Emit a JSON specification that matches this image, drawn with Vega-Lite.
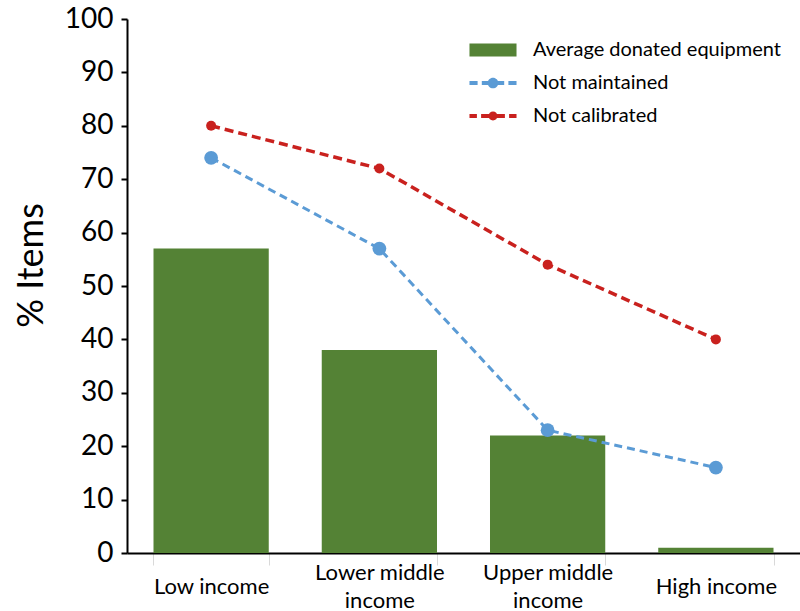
{
  "$schema": "https://vega.github.io/schema/vega-lite/v6.json",
  "width": 673,
  "height": 534,
  "autosize": {"type": "none"},
  "padding": {"left": 127, "top": 19, "right": 0, "bottom": 58},
  "background": "white",
  "config": {
    "font": "Lato",
    "view": {"stroke": null},
    "axis": {"grid": false, "domainColor": "black", "domainWidth": 2, "labelColor": "black", "titleColor": "black", "labelFont": "Lato", "titleFont": "Lato"}
  },
  "data": {
    "values": [
      {"income": "Low income", "series": "Average donated equipment", "value": 57},
      {"income": "Lower middle income", "series": "Average donated equipment", "value": 38},
      {"income": "Upper middle income", "series": "Average donated equipment", "value": 22},
      {"income": "High income", "series": "Average donated equipment", "value": 1},
      {"income": "Low income", "series": "Not maintained", "value": 74},
      {"income": "Lower middle income", "series": "Not maintained", "value": 57},
      {"income": "Upper middle income", "series": "Not maintained", "value": 23},
      {"income": "High income", "series": "Not maintained", "value": 16},
      {"income": "Low income", "series": "Not calibrated", "value": 80},
      {"income": "Lower middle income", "series": "Not calibrated", "value": 72},
      {"income": "Upper middle income", "series": "Not calibrated", "value": 54},
      {"income": "High income", "series": "Not calibrated", "value": 40}
    ]
  },
  "encoding": {
    "x": {
      "field": "income", "type": "nominal", "sort": null,
      "scale": {"paddingInner": 0.315, "paddingOuter": 0.1575},
      "axis": {
        "title": null, "labelAngle": 0, "labelFontSize": 22, "labelBaseline": "middle",
        "labelLineHeight": 14, "labelPadding": 7, "tickBand": "extent", "tickColor": "#d9d9d9",
        "tickSize": 12, "tickWidth": 1, "labelLimit": 0, "labelOverlap": false,
        "labelExpr": "datum.value == 'Lower middle income' ? ['Lower middle', '\u200b', 'income'] : datum.value == 'Upper middle income' ? ['Upper middle', '\u200b', 'income'] : ['\u200b', datum.value, '\u200b']"
      }
    },
    "y": {
      "field": "value", "type": "quantitative",
      "scale": {"domain": [0, 100], "nice": false},
      "axis": {
        "title": "% Items", "titleFontSize": 36, "titleFontWeight": "normal",
        "titleX": -96, "titleY": 246, "titleBaseline": "middle", "titleAngle": -90,
        "values": [0, 10, 20, 30, 40, 50, 60, 70, 80, 90, 100],
        "labelFontSize": 28, "labelPadding": 8, "tickSize": 6, "tickWidth": 2, "tickColor": "black"
      }
    },
    "color": {
      "field": "series", "type": "nominal",
      "scale": {"domain": ["Average donated equipment", "Not maintained", "Not calibrated"], "range": ["#548235", "#5B9BD5", "#C9211E"]},
      "legend": {
        "title": null, "orient": "none", "legendX": 352, "legendY": 17,
        "labelFontSize": 20, "labelColor": "black", "labelOffset": 26, "symbolSize": 784,
        "rowPadding": 9, "padding": 0, "labelLimit": 0,
        "encode": {
          "symbols": {
            "update": {
              "shape": {"signal": "datum.value == 'Average donated equipment' ? 'M-1.68,-0.46H1.68V0.46H-1.68Z' : datum.value == 'Not maintained' ? 'M-1.68,-0.15H-1.1V0.15H-1.68Z M-0.8,-0.15H-0.3V0.15H-0.8Z M0.3,-0.15H0.8V0.15H0.3Z M1.1,-0.15H1.68V0.15H1.1Z M0.38,0A0.38,0.38 0 1,1 -0.38,0A0.38,0.38 0 1,1 0.38,0Z' : 'M-1.68,-0.14H-1.15V0.14H-1.68Z M-0.85,-0.14H-0.25V0.14H-0.85Z M0.25,-0.14H0.85V0.14H0.25Z M1.15,-0.14H1.68V0.14H1.15Z M0.32,0A0.32,0.32 0 1,1 -0.32,0A0.32,0.32 0 1,1 0.32,0Z'"},
              "fill": {"signal": "scale('color', datum.value)"},
              "fillOpacity": {"value": 1},
              "stroke": {"value": "transparent"},
              "strokeWidth": {"value": 0}
            }
          }
        }
      }
    }
  },
  "layer": [
    {
      "transform": [{"filter": "datum.series == 'Average donated equipment'"}],
      "mark": {"type": "bar"}
    },
    {
      "transform": [{"filter": "datum.series == 'Not maintained'"}],
      "mark": {"type": "line", "strokeWidth": 3, "strokeDash": [8, 5], "point": {"filled": true, "size": 190, "opacity": 1}}
    },
    {
      "transform": [{"filter": "datum.series == 'Not calibrated'"}],
      "mark": {"type": "line", "strokeWidth": 3.5, "strokeDash": [9, 5], "point": {"filled": true, "size": 100, "opacity": 1}}
    }
  ]
}
